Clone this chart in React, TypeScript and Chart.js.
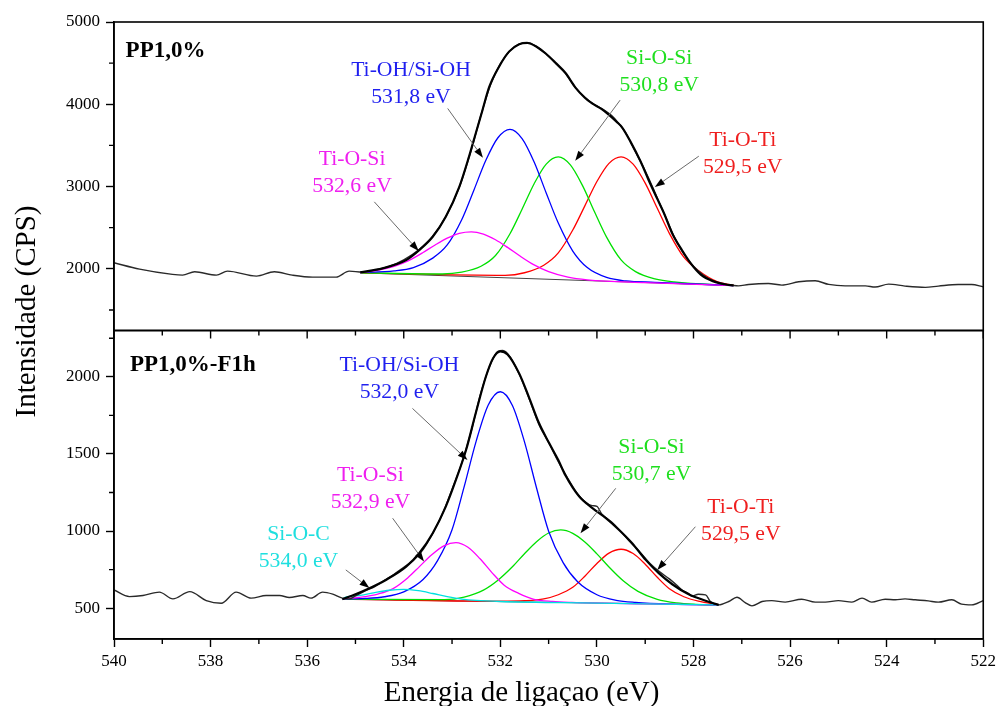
import React, { useEffect, useRef } from "react";
import { Chart, registerables } from "chart.js";

Chart.register(...registerables);

const FONT = "'Liberation Serif', 'Times New Roman', serif";

// ---------- axis ticks ----------
const xTickValues = [540, 538, 536, 534, 532, 530, 528, 526, 524, 522];
const xMinorValues = [539, 537, 535, 533, 531, 529, 527, 525, 523];
const yTopTickValues = [2000, 3000, 4000, 5000];
const yTopMinorValues = [1500, 2500, 3500, 4500];
const yBotTickValues = [500, 1000, 1500, 2000];
const yBotMinorValues = [750, 1250, 1750, 2250];

// ---------- top panel: PP1,0% ----------
const topRawE = [540.0, 539.47, 538.79, 538.58, 538.33, 537.88, 537.65, 537.05, 536.68, 536.31, 535.89, 535.4, 535.13, 534.86, 534.6, 534.3, 534.0, 533.7, 533.4, 533.1, 532.85, 532.6, 532.4, 532.2, 532.0, 531.8, 531.6, 531.45, 531.25, 531.05, 530.85, 530.65, 530.45, 530.25, 530.05, 529.85, 529.7, 529.55, 529.4, 529.2, 529.0, 528.8, 528.6, 528.4, 528.2, 528.0, 527.8, 527.6, 527.4, 527.2, 527.07, 526.86, 526.45, 526.17, 525.82, 525.48, 525.2, 524.86, 524.44, 524.24, 523.96, 523.62, 523.2, 522.93, 522.52, 522.24, 522.0];
const topRaw = [2073, 1996, 1932, 1923, 1964, 1923, 1972, 1911, 1964, 1923, 1899, 1899, 1972, 1960, 1985, 2030, 2110, 2225, 2395, 2665, 2990, 3450, 3870, 4240, 4490, 4650, 4735, 4750, 4700, 4612, 4495, 4375, 4205, 4085, 3995, 3930, 3865, 3770, 3650, 3420, 3190, 2930, 2660, 2390, 2180, 2030, 1925, 1855, 1815, 1800, 1793, 1810, 1822, 1802, 1842, 1854, 1810, 1793, 1793, 1778, 1814, 1790, 1774, 1790, 1810, 1810, 1781];

const topEnvE = [534.9, 534.44, 533.95, 533.68, 533.4, 533.13, 532.85, 532.65, 532.51, 532.37, 532.23, 532.03, 531.82, 531.61, 531.44, 531.25, 531.06, 530.85, 530.65, 530.44, 530.25, 530.1, 529.9, 529.75, 529.6, 529.48, 529.3, 529.1, 528.93, 528.75, 528.6, 528.44, 528.24, 528.05, 527.85, 527.6, 527.35, 527.17];
const topEnv = [1958, 2005, 2106, 2227, 2389, 2632, 2996, 3361, 3645, 3928, 4211, 4454, 4640, 4730, 4745, 4700, 4617, 4500, 4380, 4200, 4080, 4010, 3940, 3870, 3790, 3720, 3540, 3310, 3080, 2850, 2660, 2430, 2227, 2060, 1930, 1850, 1812, 1798];

const topBaseE = [534.9, 527.17];
const topBase = [1951, 1796];

const topMagE = [534.9, 534.6, 534.2, 533.9, 533.6, 533.35, 533.1, 532.85, 532.6, 532.35, 532.1, 531.85, 531.6, 531.3, 531.0, 530.6, 530.2, 529.0, 527.17];
const topMag = [1955, 1975, 2030, 2100, 2198, 2290, 2373, 2432, 2450, 2422, 2353, 2260, 2158, 2047, 1965, 1898, 1866, 1832, 1796];

const topBlueE = [534.9, 534.2, 533.8, 533.4, 533.1, 532.8, 532.55, 532.3, 532.05, 531.8, 531.55, 531.3, 531.05, 530.8, 530.5, 530.2, 529.8, 529.4, 528.8, 527.17];
const topBlue = [1955, 1975, 2015, 2130, 2290, 2597, 2953, 3319, 3593, 3695, 3583, 3298, 2922, 2556, 2216, 2015, 1895, 1852, 1836, 1796];

const topGreenE = [534.9, 533.2, 532.8, 532.4, 532.1, 531.8, 531.55, 531.3, 531.05, 530.8, 530.55, 530.3, 530.05, 529.8, 529.5, 529.2, 528.8, 528.4, 527.17];
const topGreen = [1952, 1937, 1959, 2031, 2161, 2426, 2724, 3034, 3273, 3360, 3263, 3014, 2693, 2385, 2108, 1966, 1878, 1840, 1796];

const topRedE = [534.9, 531.9, 531.5, 531.1, 530.8, 530.5, 530.25, 530.0, 529.75, 529.5, 529.25, 529.0, 528.75, 528.5, 528.2, 527.9, 527.5, 527.17];
const topRed = [1951, 1921, 1952, 2044, 2193, 2471, 2765, 3061, 3282, 3361, 3272, 3041, 2735, 2431, 2141, 1980, 1842, 1800];

// ---------- bottom panel: PP1,0%-F1h ----------
const botRawE = [540.0, 539.68, 539.4, 539.06, 538.78, 538.43, 538.09, 537.78, 537.47, 537.16, 536.85, 536.57, 536.37, 536.09, 535.92, 535.68, 535.47, 535.27, 535.13, 535.0, 534.8, 534.6, 534.4, 534.2, 534.0, 533.8, 533.6, 533.4, 533.2, 533.0, 532.8, 532.6, 532.4, 532.2, 532.05, 531.95, 531.8, 531.6, 531.4, 531.2, 531.0, 530.8, 530.6, 530.4, 530.25, 530.1, 530.0, 529.9, 529.7, 529.5, 529.3, 529.1, 528.9, 528.7, 528.5, 528.35, 528.24, 528.1, 528.03, 527.9, 527.75, 527.65, 527.48, 527.27, 527.1, 526.93, 526.79, 526.58, 526.38, 526.1, 525.76, 525.48, 525.27, 525.0, 524.72, 524.51, 524.31, 524.03, 523.82, 523.62, 523.41, 523.14, 522.93, 522.65, 522.45, 522.24, 522.0];
const botRaw = [618, 575, 582, 604, 560, 607, 549, 532, 604, 565, 582, 582, 569, 582, 565, 604, 591, 565, 560, 580, 612, 640, 680, 720, 765, 810, 880, 985, 1110, 1270, 1440, 1650, 1900, 2085, 2165, 2170, 2130, 2010, 1855, 1690, 1575, 1450, 1340, 1240, 1190, 1165, 1160, 1110, 1060, 995, 925, 860, 790, 735, 690, 650, 618, 595, 578, 590, 586, 543, 521, 543, 571, 536, 515, 543, 549, 539, 558, 539, 539, 549, 539, 565, 539, 558, 554, 560, 554, 547, 539, 554, 526, 521, 549];

const botEnvE = [535.27, 535.0, 534.78, 534.37, 533.95, 533.68, 533.4, 533.13, 532.92, 532.71, 532.51, 532.3, 532.15, 532.0, 531.85, 531.61, 531.41, 531.2, 530.99, 530.8, 530.65, 530.37, 530.1, 529.82, 529.54, 529.27, 528.99, 528.72, 528.44, 528.1, 527.75, 527.48];
const botEnv = [558, 590, 619, 683, 769, 856, 986, 1158, 1331, 1525, 1763, 2000, 2120, 2165, 2145, 2022, 1870, 1700, 1570, 1460, 1360, 1225, 1150, 1085, 1007, 921, 813, 727, 655, 590, 548, 521];

const botBaseE = [535.27, 527.48];
const botBase = [558, 521];

const botCyanE = [535.27, 535.2, 534.9, 534.6, 534.3, 534.0, 533.7, 533.4, 533.1, 532.8, 532.5, 532.0, 530.0, 527.48];
const botCyan = [560, 571, 583, 601, 616, 622, 613, 595, 575, 559, 550, 543, 533, 521];

const botMagE = [535.27, 534.92, 534.52, 534.22, 533.92, 533.67, 533.42, 533.17, 532.92, 532.67, 532.42, 532.17, 531.92, 531.62, 531.32, 530.92, 530.52, 529.0, 527.48];
const botMag = [560, 570, 593, 627, 696, 771, 846, 904, 925, 895, 820, 729, 649, 596, 559, 543, 537, 528, 521];

const botBlueE = [535.27, 534.8, 534.4, 534.0, 533.6, 533.3, 533.0, 532.75, 532.5, 532.25, 532.0, 531.75, 531.5, 531.25, 531.0, 530.7, 530.4, 530.0, 529.6, 529.2, 528.5, 527.48];
const botBlue = [560, 563, 574, 606, 686, 808, 1008, 1286, 1583, 1817, 1903, 1814, 1578, 1279, 999, 795, 671, 587, 551, 537, 526, 521];

const botGreenE = [535.27, 533.15, 532.75, 532.35, 532.05, 531.75, 531.5, 531.25, 531.0, 530.75, 530.5, 530.25, 530.0, 529.75, 529.45, 529.15, 528.75, 528.35, 527.95, 527.48];
const botGreen = [558, 555, 572, 617, 681, 768, 853, 931, 987, 1007, 985, 929, 852, 767, 676, 609, 557, 534, 525, 521];

const botRedE = [535.27, 532.0, 531.5, 531.1, 530.8, 530.5, 530.25, 530.0, 529.75, 529.5, 529.25, 529.0, 528.75, 528.5, 528.2, 527.9, 527.48];
const botRed = [558, 545, 548, 560, 587, 635, 707, 790, 857, 882, 854, 785, 700, 626, 574, 545, 522];

// ---------- annotation texts (anchored in data coordinates) ----------
const topNotes = [
  { lines: ["Ti-OH/Si-OH", "531,8 eV"], color: "#1f1fef", at: [533.85, 4414], from: [533.09, 3949], to: [532.36, 3349] },
  { lines: ["Ti-O-Si", "532,6 eV"], color: "#ef1fef", at: [535.07, 3333], from: [534.61, 2814], to: [533.69, 2215] },
  { lines: ["Si-O-Si", "530,8 eV"], color: "#1fdf1f", at: [528.71, 4554], from: [529.52, 4050], to: [530.45, 3312] },
  { lines: ["Ti-O-Ti", "529,5 eV"], color: "#ef1f1f", at: [526.98, 3558], from: [527.89, 3369], to: [528.8, 2993] },
];
const botNotes = [
  { lines: ["Ti-OH/Si-OH", "532,0 eV"], color: "#1f1fef", at: [534.09, 2076], from: [533.82, 1795], to: [532.68, 1460] },
  { lines: ["Ti-O-Si", "532,9 eV"], color: "#ef1fef", at: [534.69, 1360], from: [534.23, 1083], to: [533.58, 802] },
  { lines: ["Si-O-C", "534,0 eV"], color: "#1fdfdf", at: [536.18, 981], from: [535.2, 748], to: [534.71, 630] },
  { lines: ["Si-O-Si", "530,7 eV"], color: "#1fdf1f", at: [528.87, 1541], from: [529.61, 1277], to: [530.34, 986] },
  { lines: ["Ti-O-Ti", "529,5 eV"], color: "#ef1f1f", at: [527.02, 1153], from: [527.96, 1028], to: [528.75, 748] },
];
const panelLabels = [
  { text: "PP1,0%", axis: "yTop", at: [539.76, 4645] },
  { text: "PP1,0%-F1h", axis: "yBot", at: [539.67, 2076] },
];

const pts = (e: number[], v: number[]) => e.map((x, i) => ({ x, y: v[i] }));

function series(label: string, e: number[], v: number[], color: string, width: number, axis: string, order: number) {
  return {
    label,
    data: pts(e, v),
    borderColor: color,
    backgroundColor: color,
    borderWidth: width,
    pointRadius: 0,
    fill: false,
    cubicInterpolationMode: "monotone" as const,
    yAxisID: axis,
    order,
  };
}

function drawArrow(ctx: CanvasRenderingContext2D, fx: number, fy: number, tx: number, ty: number) {
  const ang = Math.atan2(ty - fy, tx - fx);
  const len = 10;
  const half = 3.5;
  const bx = tx - len * Math.cos(ang);
  const by = ty - len * Math.sin(ang);
  ctx.strokeStyle = "#6a6a6a";
  ctx.lineWidth = 1;
  ctx.beginPath();
  ctx.moveTo(fx, fy);
  ctx.lineTo(bx, by);
  ctx.stroke();
  ctx.fillStyle = "#000";
  ctx.beginPath();
  ctx.moveTo(tx, ty);
  ctx.lineTo(bx + half * Math.sin(ang), by - half * Math.cos(ang));
  ctx.lineTo(bx - half * Math.sin(ang), by + half * Math.cos(ang));
  ctx.closePath();
  ctx.fill();
}

const decorPlugin = {
  id: "decor",
  afterDraw(chart: any) {
    const ctx: CanvasRenderingContext2D = chart.ctx;
    const xs = chart.scales.x;
    const yT = chart.scales.yTop;
    const yB = chart.scales.yBot;
    ctx.save();
    // frames
    ctx.strokeStyle = "#000";
    ctx.lineWidth = 1.6;
    ctx.strokeRect(xs.left, yT.top, xs.right - xs.left, yT.bottom - yT.top);
    ctx.strokeRect(xs.left, yB.top, xs.right - xs.left, yB.bottom - yB.top);
    // minor ticks and the top panel's own x ticks
    ctx.lineWidth = 1.4;
    ctx.beginPath();
    for (const v of xMinorValues) {
      const p = xs.getPixelForValue(v);
      ctx.moveTo(p, yB.bottom);
      ctx.lineTo(p, yB.bottom + 5);
    }
    for (const v of xTickValues) {
      const p = xs.getPixelForValue(v);
      ctx.moveTo(p, yT.bottom);
      ctx.lineTo(p, yT.bottom + 8);
    }
    for (const v of xMinorValues) {
      const p = xs.getPixelForValue(v);
      ctx.moveTo(p, yT.bottom);
      ctx.lineTo(p, yT.bottom + 5);
    }
    for (const v of yTopMinorValues) {
      const p = yT.getPixelForValue(v);
      ctx.moveTo(xs.left - 5, p);
      ctx.lineTo(xs.left, p);
    }
    for (const v of yBotMinorValues) {
      const p = yB.getPixelForValue(v);
      ctx.moveTo(xs.left - 5, p);
      ctx.lineTo(xs.left, p);
    }
    ctx.stroke();

    // annotations
    ctx.textAlign = "center";
    ctx.textBaseline = "middle";
    const drawNotes = (notes: any[], ys: any) => {
      for (const n of notes) {
        const cx = xs.getPixelForValue(n.at[0]);
        const cy = ys.getPixelForValue(n.at[1]);
        ctx.font = `21.7px ${FONT}`;
        ctx.fillStyle = n.color;
        n.lines.forEach((t: string, i: number) => ctx.fillText(t, cx, cy + i * 27));
        drawArrow(
          ctx,
          xs.getPixelForValue(n.from[0]),
          ys.getPixelForValue(n.from[1]),
          xs.getPixelForValue(n.to[0]),
          ys.getPixelForValue(n.to[1])
        );
      }
    };
    drawNotes(topNotes, yT);
    drawNotes(botNotes, yB);

    // panel labels
    ctx.textAlign = "left";
    ctx.fillStyle = "#000";
    ctx.font = `bold 23px ${FONT}`;
    for (const p of panelLabels) {
      const ys = chart.scales[p.axis];
      ctx.fillText(p.text, xs.getPixelForValue(p.at[0]), ys.getPixelForValue(p.at[1]));
    }

    // axis titles
    ctx.font = `29px ${FONT}`;
    ctx.textAlign = "center";
    ctx.fillText("Energia de ligaçao (eV)", (xs.left + xs.right) / 2 - 27, 693);
    ctx.save();
    ctx.translate(27, (yT.top + yB.bottom) / 2 - 19);
    ctx.rotate(-Math.PI / 2);
    ctx.fillText("Intensidade (CPS)", 0, 0);
    ctx.restore();
    ctx.restore();
  },
};

const tickFont = { family: FONT, size: 17 };

export default function App() {
  const ref = useRef<HTMLCanvasElement>(null);
  useEffect(() => {
    if (!ref.current) return;
    const datasets: any[] = [
      series("Envelope top", topEnvE, topEnv, "#000000", 2.2, "yTop", 0),
      series("Dados top", topRawE, topRaw, "#2a2a2a", 1.4, "yTop", 1),
      series("Linha base top", topBaseE, topBase, "#444444", 1, "yTop", 3),
      series("Ti-O-Si top", topMagE, topMag, "#ff00ff", 1.3, "yTop", 2),
      series("Ti-OH/Si-OH top", topBlueE, topBlue, "#0000ff", 1.3, "yTop", 2),
      series("Si-O-Si top", topGreenE, topGreen, "#00e000", 1.3, "yTop", 2),
      series("Ti-O-Ti top", topRedE, topRed, "#ff0000", 1.3, "yTop", 2),
      series("Envelope bot", botEnvE, botEnv, "#000000", 2.2, "yBot", 0),
      series("Dados bot", botRawE, botRaw, "#2a2a2a", 1.4, "yBot", 1),
      series("Linha base bot", botBaseE, botBase, "#444444", 1, "yBot", 3),
      series("Si-O-C bot", botCyanE, botCyan, "#00e0e0", 1.3, "yBot", 2),
      series("Ti-O-Si bot", botMagE, botMag, "#ff00ff", 1.3, "yBot", 2),
      series("Ti-OH/Si-OH bot", botBlueE, botBlue, "#0000ff", 1.3, "yBot", 2),
      series("Si-O-Si bot", botGreenE, botGreen, "#00e000", 1.3, "yBot", 2),
      series("Ti-O-Ti bot", botRedE, botRed, "#ff0000", 1.3, "yBot", 2),
    ];
    const chart = new Chart(ref.current, {
      type: "line",
      data: { datasets },
      options: {
        animation: false,
        responsive: false,
        devicePixelRatio: 1,
        layout: { padding: { top: 22, right: 15, left: 0, bottom: 0 } },
        plugins: { legend: { display: false }, tooltip: { enabled: false } },
        events: [],
        scales: {
          x: {
            type: "linear",
            reverse: true,
            min: 522,
            max: 540,
            afterBuildTicks: (s: any) => {
              s.ticks = xTickValues.map((value) => ({ value }));
            },
            afterFit: (s: any) => {
              s.height = 67;
            },
            ticks: { font: tickFont, color: "#000", padding: 4, maxRotation: 0, autoSkip: false, callback: (v: any) => String(v) },
            grid: { drawOnChartArea: false, tickLength: 8, tickColor: "#000", tickWidth: 1.4 },
            border: { color: "#000", width: 1.6 },
          },
          yBot: {
            type: "linear",
            position: "left",
            stack: "panels",
            stackWeight: 1,
            min: 300,
            max: 2300,
            afterBuildTicks: (s: any) => {
              s.ticks = yBotTickValues.map((value) => ({ value }));
            },
            afterFit: (s: any) => {
              s.width = 114;
            },
            ticks: { font: tickFont, color: "#000", padding: 6, callback: (v: any) => String(v) },
            grid: { drawOnChartArea: false, tickLength: 8, tickColor: "#000", tickWidth: 1.4 },
            border: { color: "#000", width: 1.6 },
          },
          yTop: {
            type: "linear",
            position: "left",
            stack: "panels",
            stackWeight: 1,
            min: 1250,
            max: 5000,
            afterBuildTicks: (s: any) => {
              s.ticks = yTopTickValues.map((value) => ({ value }));
            },
            afterFit: (s: any) => {
              s.width = 114;
            },
            ticks: { font: tickFont, color: "#000", padding: 6, callback: (v: any) => String(v) },
            grid: { drawOnChartArea: false, tickLength: 8, tickColor: "#000", tickWidth: 1.4 },
            border: { color: "#000", width: 1.6 },
          },
        },
      } as any,
      plugins: [decorPlugin],
    });
    return () => chart.destroy();
  }, []);
  return (
    <div style={{ position: "fixed", left: 0, top: 0, width: 1000, height: 706, background: "#fff" }}>
      <canvas ref={ref} width={1000} height={706} style={{ display: "block", width: 1000, height: 706 }} />
    </div>
  );
}
